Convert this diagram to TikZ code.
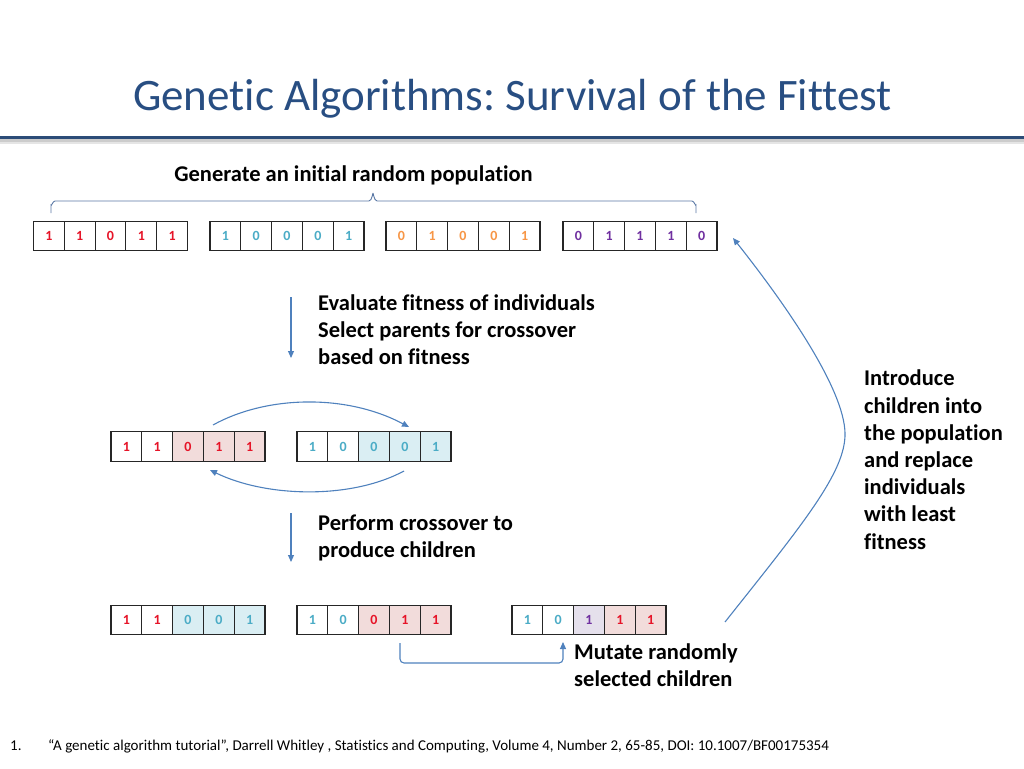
\documentclass[tikz,border=0pt]{standalone}
\usepackage{fontspec}
\setmainfont{Carlito}[Ligatures={NoCommon}]
\usetikzlibrary{arrows.meta}
\frenchspacing
\definecolor{titleblue}{RGB}{40,78,130}
\definecolor{rulecol}{RGB}{44,76,120}
\definecolor{arrowblue}{RGB}{79,129,189}
\definecolor{braceblue}{RGB}{90,120,165}
\definecolor{redd}{RGB}{230,20,40}
\definecolor{cyand}{RGB}{75,172,198}
\definecolor{orng}{RGB}{247,150,70}
\definecolor{purp}{RGB}{112,48,160}
\definecolor{pinkf}{RGB}{242,220,219}
\definecolor{bluef}{RGB}{218,238,243}
\definecolor{purpf}{RGB}{229,224,236}
\newcommand\chrom[4]{%
  \foreach \d/\c/\f [count=\i] in {#4} {
    \node[cell, text=\c, fill=\f] (#1-\i) at ({#2+(\i-0.5)*30.8}, #3) {\d};
  }}
\tikzset{
  cell/.style={draw=black!85, line width=1.1pt, minimum width=30.8pt, minimum height=29.5pt,
    inner sep=0pt, font=\bfseries\fontsize{14}{16}\selectfont},
  conn/.style={draw=arrowblue, line width=1.1pt, -{Triangle[length=7pt,width=6pt]}},
  label/.style={font=\bfseries\fontsize{22.5}{27.2}\selectfont, align=left, inner sep=0pt, anchor=north west},
}
\begin{document}
\begin{tikzpicture}[x=1pt,y=-1pt]
\useasboundingbox (0,0) rectangle (1024,768);
% title
\node[font=\fontsize{45}{50}\selectfont\frenchspacing, text=titleblue] (title) at (512.5,99) {Genetic Algorithms: Survival of the Fittest};
\fill[black!20] (0,138.5) rectangle (1024,142);
\fill[black!10] (0,142) rectangle (1024,144);
\draw[rulecol, line width=3pt] (0,137) -- (1024,137);
% top label and brace
\node[font=\bfseries\fontsize{22.5}{27}\selectfont] (gen) at (353.5,175) {Generate an initial random population};
\draw[braceblue, line width=0.9pt] (51,213) -- (51,205) to[out=-90,in=180] (55,201) -- (369,201)
  to[out=0,in=90] (373,194) to[out=90,in=180] (377,201) -- (692,201) to[out=0,in=-90] (696,205) -- (696,213);
% row 1
\chrom{ra}{33.5}{236}{1/redd/white,1/redd/white,0/redd/white,1/redd/white,1/redd/white}
\chrom{rb}{210}{236}{1/cyand/white,0/cyand/white,0/cyand/white,0/cyand/white,1/cyand/white}
\chrom{rc}{386}{236}{0/orng/white,1/orng/white,0/orng/white,0/orng/white,1/orng/white}
\chrom{rd}{563}{236}{0/purp/white,1/purp/white,1/purp/white,1/purp/white,0/purp/white}
% step 1
\coordinate (v1s) at (291,297);
\coordinate (v1e) at (291,358);
\draw[conn] (v1s) -- (v1e);
\node[label] (eval) at (318,294.5) {Evaluate fitness of individuals\\Select parents for crossover\\based on fitness};
% row 2
\chrom{pa}{111}{446.5}{1/redd/white,1/redd/white,0/redd/pinkf,1/redd/pinkf,1/redd/pinkf}
\chrom{pb}{297}{446.5}{1/cyand/white,0/cyand/white,0/cyand/bluef,0/cyand/bluef,1/cyand/bluef}
\coordinate (x1s) at (213,425);
\coordinate (x1e) at (409,427);
\coordinate (x2s) at (404,471);
\coordinate (x2e) at (210,470);
\draw[conn] (x1s) .. controls (265,396) and (345,393) .. (x1e);
\draw[conn] (x2s) .. controls (350,500) and (265,497) .. (x2e);
% step 2
\coordinate (v2s) at (291,513);
\coordinate (v2e) at (291,562);
\draw[conn] (v2s) -- (v2e);
\node[label] (cross) at (318,514.5) {Perform crossover to\\produce children};
% row 3
\chrom{ca}{111}{620}{1/redd/white,1/redd/white,0/cyand/bluef,0/cyand/bluef,1/cyand/bluef}
\chrom{cb}{297}{620}{1/cyand/white,0/cyand/white,0/redd/pinkf,1/redd/pinkf,1/redd/pinkf}
\chrom{cc}{512}{620}{1/cyand/white,0/cyand/white,1/purp/purpf,1/redd/pinkf,1/redd/pinkf}
% mutate
\coordinate (ms) at (400,643);
\coordinate (me) at (563,642);
\draw[conn, rounded corners=4pt] (ms) |- (563,663) -- (me);
\node[label] (mut) at (574,643.5) {Mutate randomly\\selected children};
% replace
\coordinate (bs) at (725,622);
\coordinate (be) at (733,238);
\draw[conn] (bs) .. controls (802,525) and (846,472) .. (845,433) .. controls (844,390) and (790,310) .. (be);
\node[label] (intro) at (864,370) {Introduce\\children into\\the population\\and replace\\individuals\\with least\\fitness};
% footnote
\node[font=\fontsize{15}{17}\selectfont, anchor=base west, inner sep=0pt] (fn1) at (10,750) {1.};
\node[font=\fontsize{15}{17}\selectfont, anchor=base west, inner sep=0pt] (fn) at (48,750) {“A genetic algorithm tutorial”, Darrell Whitley , Statistics and Computing, Volume 4, Number 2, 65-85, DOI: 10.1007/BF00175354};
\end{tikzpicture}
\end{document}
